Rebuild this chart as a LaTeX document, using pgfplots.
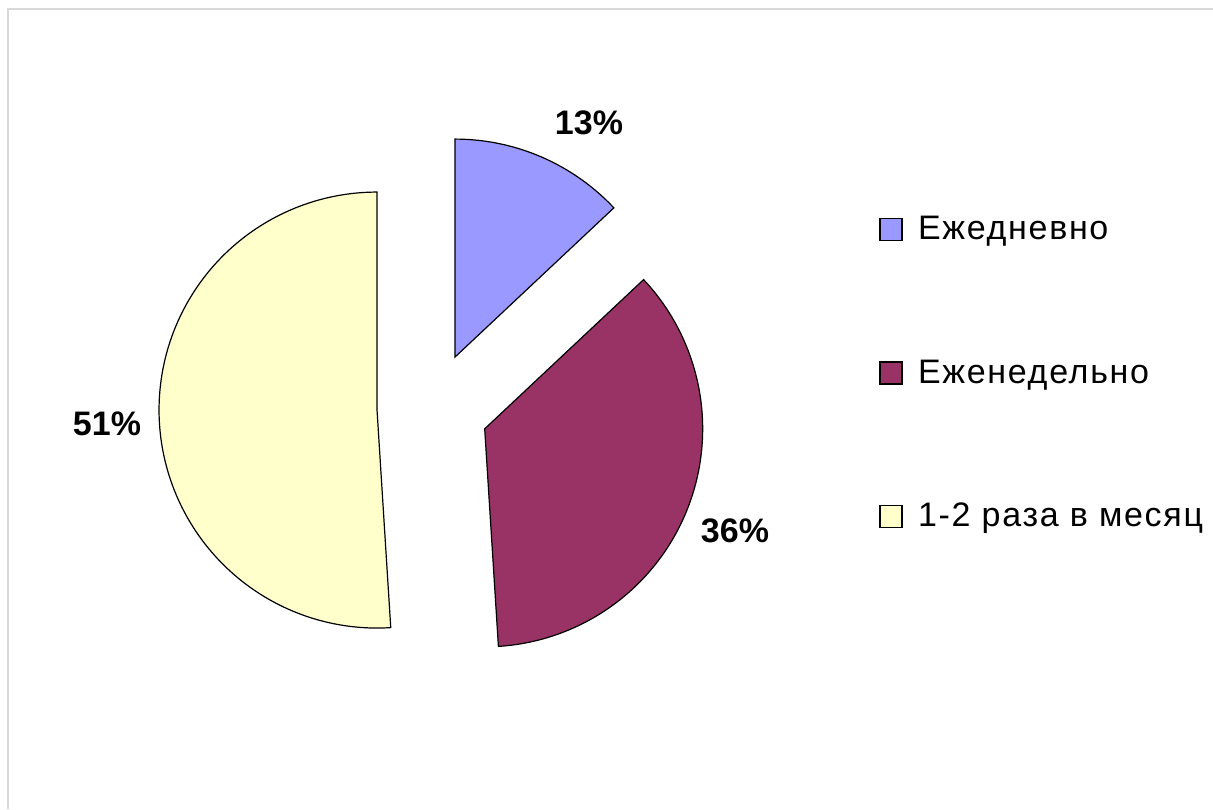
\documentclass[border=0pt]{standalone}
\usepackage{fontspec}
\setmainfont{Liberation Sans}
\usepackage{pgfplots}
\pgfplotsset{compat=1.18}
\definecolor{pieblue}{HTML}{9999FF}
\definecolor{piered}{HTML}{993366}
\definecolor{pieyellow}{HTML}{FFFFCC}
\begin{document}
\begin{tikzpicture}
\path[use as bounding box, clip] (0,0) rectangle (606.5pt,404.5pt);
% data (percent)
\pgfmathsetmacro{\vA}{13}
\pgfmathsetmacro{\vB}{36}
\pgfmathsetmacro{\vC}{51}
\pgfmathsetmacro{\tot}{\vA+\vB+\vC}
% angles (clockwise from 12 o'clock)
\pgfmathsetmacro{\aO}{90}
\pgfmathsetmacro{\aA}{\aO-(\vA/\tot)*360}
\pgfmathsetmacro{\aB}{\aA-(\vB/\tot)*360}
\pgfmathsetmacro{\aC}{\aB-(\vC/\tot)*360}
% geometry (pixel units)
\def\pcx{432.8}\def\pcy{400.7}\def\pr{218}\def\pd{55.8}
\pgfmathsetmacro{\vxA}{\pcx+\pd*cos((\aO+\aA)/2)}
\pgfmathsetmacro{\vyA}{\pcy+\pd*sin((\aO+\aA)/2)}
\pgfmathsetmacro{\vxB}{\pcx+\pd*cos((\aA+\aB)/2)}
\pgfmathsetmacro{\vyB}{\pcy+\pd*sin((\aA+\aB)/2)}
\pgfmathsetmacro{\vxC}{\pcx+\pd*cos((\aB+\aC)/2)}
\pgfmathsetmacro{\vyC}{\pcy+\pd*sin((\aB+\aC)/2)}
\begin{axis}[
  at={(0,0)}, anchor=south west,
  scale only axis, width=606.5pt, height=404.5pt,
  xmin=0, xmax=1213, ymin=0, ymax=809,
  hide axis, clip=false,
  legend image code/.code={\draw[#1,line width=0.6pt] (0pt,-5.5pt) rectangle (11pt,5.5pt);
    \path[draw=none,fill=none] (11pt,0pt) -- (17pt,0pt);},
  legend style={at={(axis cs:879,597)}, anchor=north west, draw=none, fill=none,
    font=\fontsize{17}{20}\selectfont\addfontfeature{LetterSpace=5}, row sep=54.5pt, inner sep=0pt},
  legend cell align=left,
]
\draw[black!15, line width=0.8pt] (axis cs:8,0) |- (axis cs:1213,800);
\addplot[fill=pieblue, draw=black, line width=0.6pt, domain=\aA:\aO, samples=80, variable=\t]
  ({\vxA+\pr*cos(\t)}, {\vyA+\pr*sin(\t)}) -- (axis cs:\vxA,\vyA) -- cycle;
\addlegendentry{Ежедневно}
\addplot[fill=piered, draw=black, line width=0.6pt, domain=\aB:\aA, samples=120, variable=\t]
  ({\vxB+\pr*cos(\t)}, {\vyB+\pr*sin(\t)}) -- (axis cs:\vxB,\vyB) -- cycle;
\addlegendentry{Еженедельно}
\addplot[fill=pieyellow, draw=black, line width=0.6pt, domain=\aC:\aB, samples=160, variable=\t]
  ({\vxC+\pr*cos(\t)}, {\vyC+\pr*sin(\t)}) -- (axis cs:\vxC,\vyC) -- cycle;
\addlegendentry{1-2 раза в месяц}
\node[anchor=base, font=\bfseries\fontsize{17}{20}\selectfont] at (axis cs:589,674) {13\%};
\node[anchor=base, font=\bfseries\fontsize{17}{20}\selectfont] at (axis cs:735,267) {36\%};
\node[anchor=base, font=\bfseries\fontsize{17}{20}\selectfont] at (axis cs:107,374) {51\%};
\end{axis}
\end{tikzpicture}
\end{document}
